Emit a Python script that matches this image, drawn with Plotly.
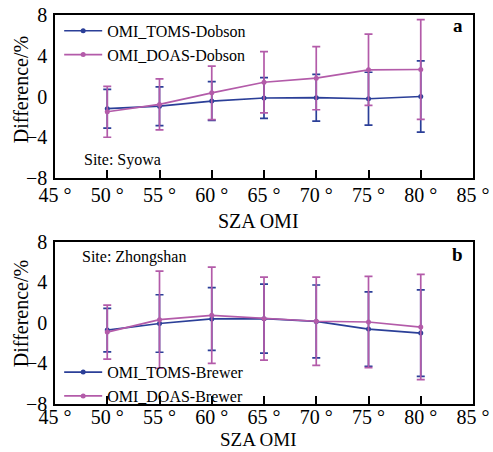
import plotly.graph_objects as go
from plotly.subplots import make_subplots

# Solar zenith angle bins (degrees)
sza = [50, 55, 60, 65, 70, 75, 80]
x_ticks = [45, 50, 55, 60, 65, 70, 75, 80, 85]
x_ticklabels = [f"{v} °" for v in x_ticks]
y_ticks = [-8, -4, 0, 4, 8]

# Panel a: Syowa (Dobson)
syowa_toms = [-1.2, -0.95, -0.45, -0.15, -0.12, -0.22, 0.0]
syowa_toms_err = [1.9, 1.9, 1.9, 2.0, 2.3, 2.6, 3.5]
syowa_doas = [-1.5, -0.78, 0.36, 1.4, 1.8, 2.62, 2.65]
syowa_doas_err = [2.5, 2.5, 2.63, 3.0, 3.1, 3.5, 4.9]

# Panel b: Zhongshan (Brewer)
zhong_toms = [-0.7, -0.05, 0.4, 0.43, 0.15, -0.6, -1.0]
zhong_toms_err = [2.15, 2.84, 3.1, 3.4, 3.6, 3.67, 4.27]
zhong_doas = [-0.9, 0.33, 0.76, 0.43, 0.17, 0.1, -0.4]
zhong_doas_err = [2.67, 4.8, 4.75, 4.1, 4.35, 4.5, 5.2]

BLUE = "#2b3f98"
MAGENTA = "#b35ba9"
FONT = "Liberation Serif, Times New Roman, serif"

fig = make_subplots(rows=2, cols=1)


def add_series(y, err, name, color, row, legend):
    fig.add_trace(
        go.Scatter(
            x=sza, y=y, name=name, mode="lines+markers",
            line=dict(color=color, width=1.7),
            marker=dict(color=color, size=5),
            error_y=dict(type="data", array=err, visible=True,
                         color=color, thickness=1.7, width=4),
            legend=legend,
        ),
        row=row, col=1,
    )


add_series(syowa_toms, syowa_toms_err, "OMI_TOMS-Dobson", BLUE, 1, "legend")
add_series(syowa_doas, syowa_doas_err, "OMI_DOAS-Dobson", MAGENTA, 1, "legend")
add_series(zhong_toms, zhong_toms_err, "OMI_TOMS-Brewer", BLUE, 2, "legend2")
add_series(zhong_doas, zhong_doas_err, "OMI_DOAS-Brewer", MAGENTA, 2, "legend2")

axis_common = dict(
    showline=True, linecolor="black", linewidth=1.5, mirror=True,
    showgrid=False, zeroline=False,
    tickfont=dict(family=FONT, size=20, color="black"),
)

for r, standoff in ((1, -2), (2, -6)):
    fig.update_xaxes(
        range=[45, 85], tickmode="array", tickvals=x_ticks, ticktext=x_ticklabels,
        ticks="inside", ticklen=8, tickwidth=1.5, tickcolor="black",
        ticklabelstandoff=standoff,
        row=r, col=1, **axis_common,
    )
    fig.update_yaxes(
        range=[-8, 8], tickmode="array", tickvals=y_ticks,
        ticks="", ticklabelstandoff=2,
        row=r, col=1, **axis_common,
    )

legend_style = dict(
    xanchor="left", yanchor="top", bgcolor="rgba(0,0,0,0)",
    font=dict(family=FONT, size=16), tracegroupgap=0, itemwidth=38,
)

TITLE_FONT = dict(family=FONT, size=20, color="black")

# Axis titles are placed as paper-anchored labels so each panel gets its own pair
axis_titles = [
    dict(text="SZA OMI", xref="paper", yref="paper", x=0.488, y=(404 - 221) / 389,
         showarrow=False, xanchor="center", yanchor="middle", font=TITLE_FONT),
    dict(text="SZA OMI", xref="paper", yref="paper", x=0.488, y=-47.5 / 389,
         showarrow=False, xanchor="center", yanchor="bottom",
         font=dict(family=FONT, size=19, color="black")),
    dict(text="Difference/%", xref="paper", yref="paper", x=-0.081, y=(404 - 90) / 389,
         showarrow=False, xanchor="center", yanchor="middle", textangle=-90,
         font=TITLE_FONT),
    dict(text="Difference/%", xref="paper", yref="paper", x=-0.081, y=(404 - 314) / 389,
         showarrow=False, xanchor="center", yanchor="middle", textangle=-90,
         font=TITLE_FONT),
]

panel_labels = [
    dict(text="Site: Syowa", xref="x", yref="y", x=47.6, y=-6.2,
         xanchor="left", yanchor="middle", showarrow=False,
         font=dict(family=FONT, size=16)),
    dict(text="<b>a</b>", xref="x", yref="y", x=84.25, y=6.95,
         xanchor="right", yanchor="middle", showarrow=False,
         font=dict(family=FONT, size=19)),
    dict(text="Site: Zhongshan", xref="x2", yref="y2", x=47.4, y=6.5,
         xanchor="left", yanchor="middle", showarrow=False,
         font=dict(family=FONT, size=16)),
    dict(text="<b>b</b>", xref="x2", yref="y2", x=84.25, y=6.8,
         xanchor="right", yanchor="middle", showarrow=False,
         font=dict(family=FONT, size=19)),
]

fig.update_layout(
    width=493, height=452,
    margin=dict(l=55, r=20, t=15, b=48, autoexpand=False),
    paper_bgcolor="white", plot_bgcolor="white",
    font=dict(family=FONT, color="black"),
    xaxis=dict(domain=[0, 1]),
    yaxis=dict(domain=[0.581, 1.0]),
    xaxis2=dict(domain=[0, 1]),
    yaxis2=dict(domain=[0.0, 0.4165]),
    legend=dict(x=0.01, y=1.003, **legend_style),
    legend2=dict(x=0.01, y=0.1254, **legend_style),
    annotations=axis_titles + panel_labels,
)

fig.write_html("out.html")
